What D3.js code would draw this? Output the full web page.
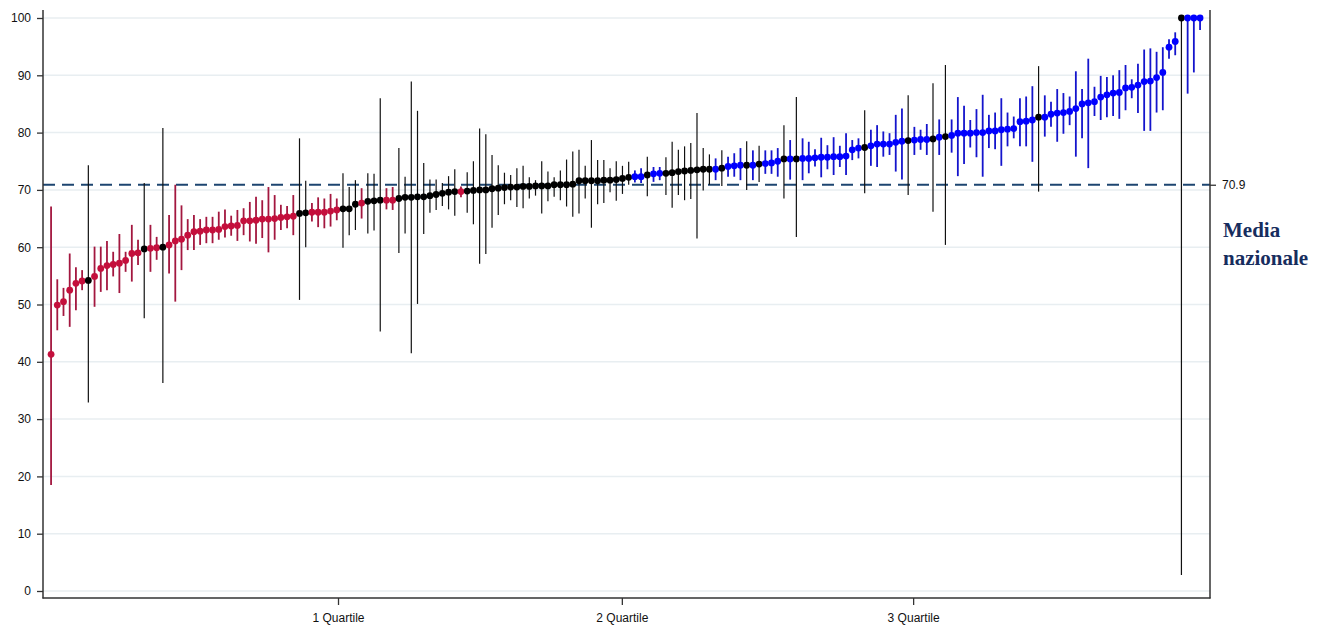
<!DOCTYPE html>
<html>
<head>
<meta charset="utf-8">
<script src="https://cdn.jsdelivr.net/npm/d3@7"></script>
<style>
  body { margin: 0; background: #fff; }
  svg { display: block; }
</style>
</head>
<body>
<script>
// stime per struttura, ordinate (valore, limite inferiore, limite superiore, gruppo)
var estimate = [
  41.3, 49.9, 50.5, 52.5, 53.7, 54.1, 54.2, 54.9, 56.3, 56.8,
  57.0, 57.2, 57.7, 58.9, 59.0, 59.7, 59.8, 59.9, 60.0, 60.4,
  61.1, 61.4, 62.1, 62.7, 62.8, 63.0, 63.0, 63.1, 63.6, 63.7,
  63.8, 64.6, 64.6, 64.7, 64.9, 64.9, 65.0, 65.2, 65.3, 65.4,
  65.9, 66.0, 66.1, 66.1, 66.1, 66.3, 66.5, 66.7, 66.7, 67.5,
  67.7, 68.0, 68.1, 68.2, 68.2, 68.2, 68.5, 68.7, 68.7, 68.8,
  68.8, 69.0, 69.2, 69.4, 69.6, 69.7, 69.7, 69.8, 69.9, 70.0,
  70.0, 70.2, 70.3, 70.4, 70.5, 70.5, 70.6, 70.6, 70.7, 70.7,
  70.7, 70.9, 70.9, 70.9, 71.0, 71.6, 71.6, 71.6, 71.6, 71.7,
  71.7, 71.8, 72.0, 72.2, 72.3, 72.3, 72.6, 72.8, 72.9, 72.9,
  73.0, 73.2, 73.3, 73.4, 73.5, 73.6, 73.6, 73.6, 73.8, 74.1,
  74.2, 74.3, 74.3, 74.3, 74.5, 74.6, 74.7, 75.0, 75.4, 75.4,
  75.4, 75.5, 75.5, 75.6, 75.7, 75.7, 75.8, 75.8, 75.9, 77.0,
  77.3, 77.4, 77.7, 78.0, 78.0, 78.0, 78.3, 78.5, 78.6, 78.7,
  78.8, 78.8, 78.9, 79.2, 79.3, 79.5, 79.9, 79.9, 79.9, 80.0,
  80.0, 80.3, 80.3, 80.5, 80.6, 80.7, 81.9, 82.0, 82.2, 82.7,
  82.7, 83.2, 83.4, 83.5, 83.7, 84.2, 85.0, 85.2, 85.4, 86.2,
  86.6, 86.9, 87.0, 87.8, 87.9, 88.3, 88.9, 89.0, 89.6, 90.5,
  94.9, 95.9, 100, 100, 100, 100
];
var lower = [
  18.5, 45.5, 48.0, 46.1, 49.0, 52.5, 32.9, 49.6, 52.2, 52.5,
  54.9, 52.0, 55.7, 54.0, 56.9, 47.6, 55.7, 57.8, 36.3, 55.4,
  50.5, 56.0, 59.5, 59.5, 60.4, 60.7, 60.7, 61.3, 61.7, 62.0,
  61.1, 62.1, 61.0, 60.6, 61.6, 59.1, 61.3, 63.0, 63.3, 62.1,
  50.8, 60.0, 64.5, 63.5, 63.3, 63.6, 64.7, 59.9, 62.1, 63.0,
  65.0, 62.4, 62.9, 45.3, 66.6, 66.5, 59.0, 62.4, 41.5, 50.1,
  62.3, 66.0, 66.5, 67.2, 66.6, 65.5, 68.7, 66.0, 64.0, 57.1,
  58.8, 63.4, 65.6, 67.5, 68.2, 67.0, 66.8, 68.5, 69.0, 65.9,
  68.0, 68.8, 68.2, 67.1, 65.3, 65.9, 68.5, 63.4, 67.5, 67.7,
  69.6, 68.1, 69.3, 70.9, 71.3, 71.2, 68.9, 71.4, 71.7, 69.1,
  66.9, 69.1, 68.2, 68.4, 61.5, 69.9, 70.9, 71.7, 70.7, 72.3,
  72.3, 71.7, 70.0, 71.7, 71.4, 72.8, 72.8, 72.3, 68.5, 71.8,
  61.8, 71.7, 72.9, 74.1, 72.2, 73.6, 72.6, 74.0, 72.6, 75.2,
  75.5, 69.4, 74.2, 74.0, 75.8, 76.1, 73.2, 71.8, 69.1, 76.1,
  77.0, 76.1, 66.2, 76.1, 60.4, 76.5, 72.4, 74.5, 77.4, 75.7,
  72.3, 77.3, 77.1, 74.2, 77.6, 79.0, 77.6, 77.6, 74.9, 69.7,
  79.3, 81.0, 78.4, 79.8, 81.3, 75.8, 79.0, 73.8, 82.9, 82.2,
  82.7, 82.9, 82.4, 83.9, 86.0, 83.4, 80.3, 80.3, 83.5, 83.9,
  92.9, 93.5, 2.8, 86.8, 90.5, 97.9
];
var upper = [
  67.1, 54.4, 52.9, 58.9, 56.5, 56.0, 74.3, 60.1, 60.1, 61.1,
  59.2, 62.3, 59.2, 63.9, 61.3, 71.2, 63.9, 61.8, 80.8, 65.6,
  70.9, 67.3, 64.9, 65.6, 64.9, 65.3, 65.3, 66.2, 66.6, 65.5,
  66.5, 66.8, 67.9, 68.8, 68.2, 70.5, 69.1, 67.4, 67.2, 69.1,
  79.0, 71.6, 67.7, 68.7, 68.5, 69.3, 68.5, 72.9, 70.5, 71.7,
  70.3, 72.9, 72.8, 86.0, 70.3, 70.5, 77.3, 72.3, 88.9, 83.8,
  74.7, 71.8, 71.8, 71.2, 72.4, 73.6, 70.6, 73.1, 75.0, 80.7,
  79.7, 76.1, 74.3, 73.0, 72.6, 73.8, 74.2, 72.2, 71.7, 75.0,
  73.2, 72.2, 73.4, 75.3, 76.7, 77.0, 74.2, 78.7, 75.2, 75.2,
  73.8, 75.0, 74.2, 74.9, 73.4, 73.8, 75.8, 74.0, 74.0, 75.7,
  78.4, 77.0, 77.6, 78.2, 83.4, 77.3, 76.2, 75.5, 76.9, 75.8,
  76.4, 77.3, 78.5, 76.9, 77.7, 76.9, 76.9, 77.3, 81.3, 78.7,
  86.2, 79.0, 78.4, 77.1, 79.1, 77.8, 79.2, 77.7, 79.9, 78.7,
  79.0, 83.9, 80.5, 81.3, 80.2, 79.9, 83.1, 84.2, 86.5, 81.0,
  80.5, 81.5, 88.6, 82.3, 91.8, 82.3, 86.2, 84.7, 82.2, 84.1,
  86.6, 83.1, 83.5, 86.0, 83.5, 82.8, 86.0, 86.3, 88.1, 91.6,
  86.5, 85.4, 87.6, 86.9, 86.3, 90.7, 87.6, 92.9, 88.0, 89.9,
  89.7, 90.0, 90.9, 91.8, 89.3, 92.0, 94.5, 94.7, 94.1, 94.9,
  96.3, 97.5, 100, 100, 100, 100
];
// r = sotto la media, k = non diverso, b = sopra la media (20 per riga)
var group = (
  "rrrrrrkrrrrrrrrkrrkr" +
  "rrrrrrrrrrrrrrrrrrrr" +
  "kkrrrrrkkkrkkkrrkkkk" +
  "kkkkkkrkkkkkkkkkkkkk" +
  "kkkkkkkkkkkkkkbbkbbk" +
  "kkkkkkkbkbbbkbkbbbkb" +
  "kbbbbbbbbbbkbbbbbbkb" +
  "bbkbkbbbbbbbbbbbbbbk" +
  "bbbbbbbbbbbbbbbbbbbb" +
  "bbkbbb"
).split("");

var nationalMean = 70.9;
var yTicks = [0, 10, 20, 30, 40, 50, 60, 70, 80, 90, 100];
var quartilePos = [46.2, 91.9, 138.8];
var quartileLabels = ["1 Quartile", "2 Quartile", "3 Quartile"];

var w = 1325;
var h = 625;

var dotColor = { r: "#c40f3c", k: "#000000", b: "#0000ff" };
var barColor = { r: "#a3173f", k: "#111111", b: "#1414cc" };
var barWidth = { r: 1.8, k: 1.2, b: 1.8 };

var xScale = d3.scaleLinear()
  .domain([-1.3, 186.6])
  .range([43, 1210]);

var yScale = d3.scaleLinear()
  .domain([0, 100])
  .range([591, 18]);

var svg = d3.select("body").append("svg")
  .attr("width", w)
  .attr("height", h);

var data = estimate.map(function(d, i) {
  return { i: i, est: d, lo: lower[i], hi: upper[i], g: group[i] };
});

// griglia orizzontale
svg.append("g").selectAll("line")
  .data(yTicks)
  .enter()
  .append("line")
  .attr("x1", xScale.range()[0])
  .attr("x2", xScale.range()[1])
  .attr("y1", function(d) { return yScale(d); })
  .attr("y2", function(d) { return yScale(d); })
  .attr("stroke", "#e8eef1")
  .attr("stroke-width", 1.5);

// media nazionale
svg.append("line")
  .attr("x1", xScale.range()[0])
  .attr("x2", xScale.range()[1])
  .attr("y1", yScale(nationalMean))
  .attr("y2", yScale(nationalMean))
  .attr("stroke", "#1d4570")
  .attr("stroke-width", 2)
  .attr("stroke-dasharray", "12,7");

// intervalli di confidenza
svg.append("g").selectAll("line")
  .data(data)
  .enter()
  .append("line")
  .attr("x1", function(d) { return xScale(d.i); })
  .attr("x2", function(d) { return xScale(d.i); })
  .attr("y1", function(d) { return yScale(d.lo); })
  .attr("y2", function(d) { return yScale(d.hi); })
  .attr("stroke", function(d) { return barColor[d.g]; })
  .attr("stroke-width", function(d) { return barWidth[d.g]; });

// punti
svg.append("g").selectAll("circle")
  .data(data)
  .enter()
  .append("circle")
  .attr("cx", function(d) { return xScale(d.i); })
  .attr("cy", function(d) { return yScale(d.est); })
  .attr("r", 3.4)
  .attr("fill", function(d) { return dotColor[d.g]; });

// assi
var axisFont = "'Liberation Sans', Arial, sans-serif";

var yAxis = svg.append("g")
  .attr("transform", "translate(43,0)")
  .call(d3.axisLeft(yScale).tickValues(yTicks).tickSize(6).tickPadding(6));

var xAxis = svg.append("g")
  .attr("transform", "translate(0,598)")
  .call(d3.axisBottom(xScale).tickValues(quartilePos)
    .tickFormat(function(d, i) { return quartileLabels[i]; })
    .tickSize(7).tickPadding(8));

var rAxis = svg.append("g")
  .attr("transform", "translate(1210,0)")
  .call(d3.axisRight(yScale).tickValues([nationalMean])
    .tickFormat(d3.format(".1f")).tickSize(6).tickPadding(6));

[yAxis, xAxis, rAxis].forEach(function(a) {
  a.select(".domain").remove();
  a.selectAll("line").attr("stroke", "#333").attr("stroke-width", 1.3);
  a.selectAll("text")
    .attr("fill", "#111")
    .style("font-family", axisFont)
    .style("font-size", "12px");
});

// linee degli assi
svg.append("line")
  .attr("x1", 43).attr("x2", 43)
  .attr("y1", 10).attr("y2", 598.5)
  .attr("stroke", "#333").attr("stroke-width", 1.5);
svg.append("line")
  .attr("x1", 1210).attr("x2", 1210)
  .attr("y1", 10).attr("y2", 598.5)
  .attr("stroke", "#333").attr("stroke-width", 1.5);
svg.append("line")
  .attr("x1", 42.5).attr("x2", 1210.5)
  .attr("y1", 598).attr("y2", 598)
  .attr("stroke", "#333").attr("stroke-width", 1.5);

// etichetta
var label = svg.append("text")
  .attr("x", 1223)
  .attr("y", 237)
  .attr("fill", "#172d5e")
  .style("font-family", "'Liberation Serif', 'Times New Roman', serif")
  .style("font-weight", "bold")
  .style("font-size", "21px");
label.append("tspan").attr("x", 1223).attr("y", 237).text("Media");
label.append("tspan").attr("x", 1223).attr("y", 265).text("nazionale");
</script>
</body>
</html>
